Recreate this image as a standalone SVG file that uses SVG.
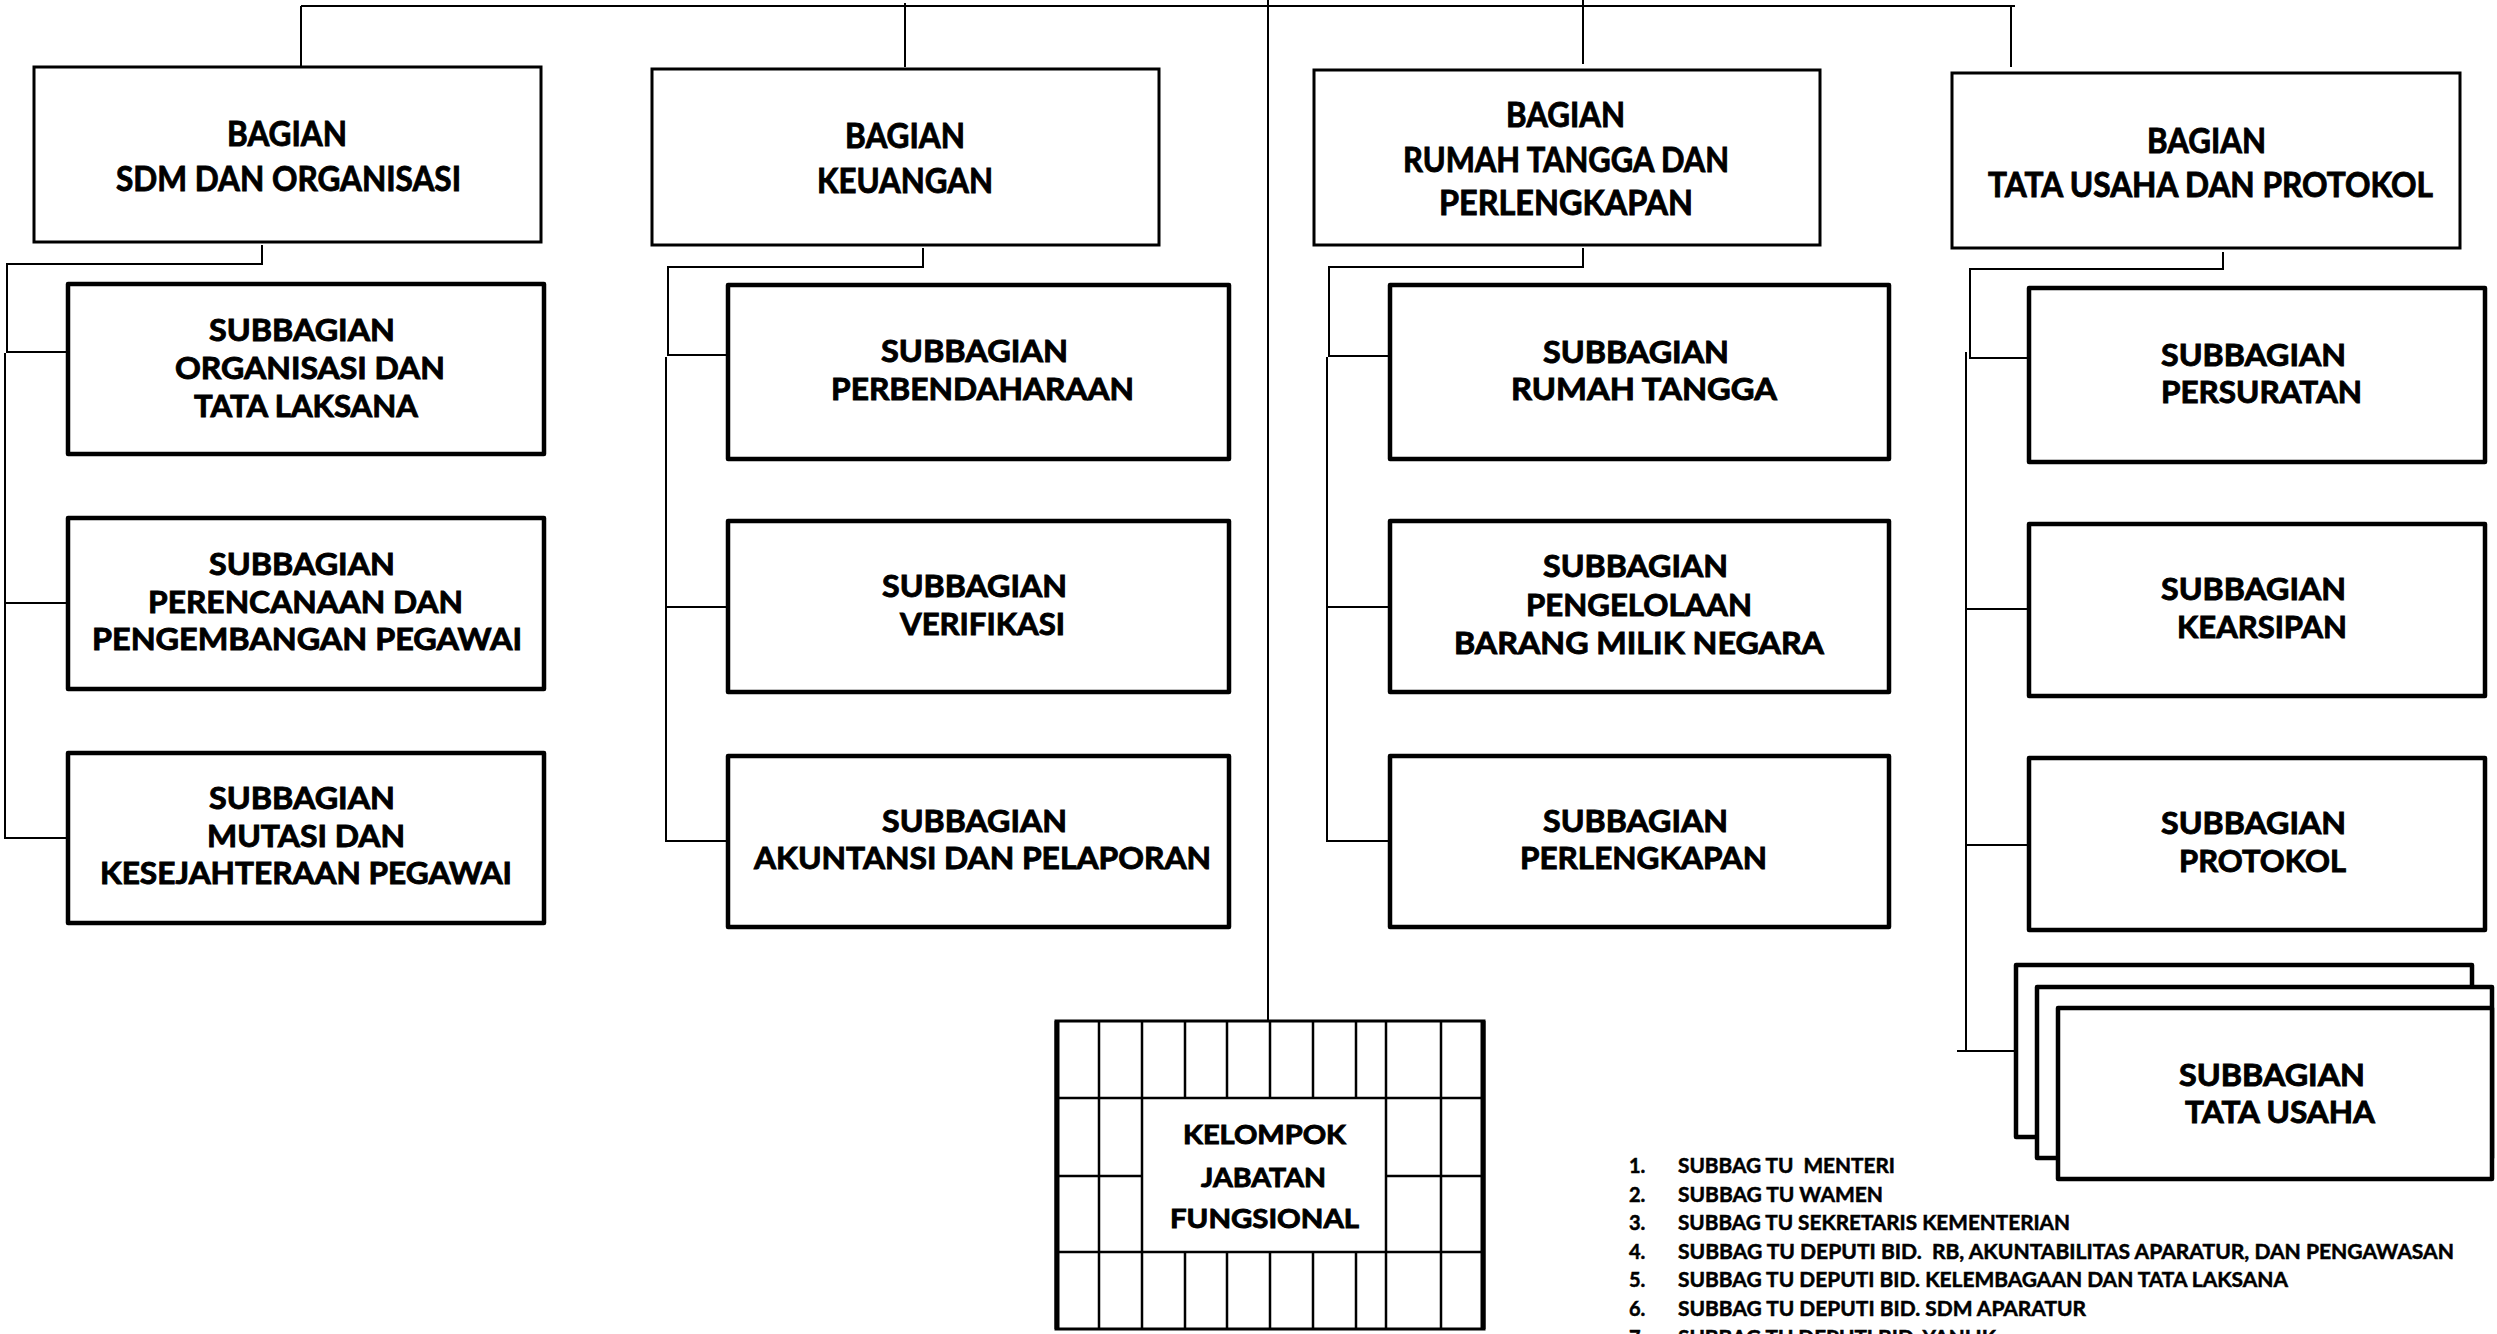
<svg xmlns="http://www.w3.org/2000/svg" width="2497" height="1334" viewBox="0 0 2497 1334">
<style>
.bg{fill:#ffffff}
.con{fill:none;stroke:#000;stroke-width:2}
.bag{fill:#fff;stroke:#000;stroke-width:3}
.sub{fill:#fff;stroke:#000;stroke-width:4.5;stroke-linejoin:round}
.grid{fill:none;stroke:#000;stroke-width:2.5}
.gridout{fill:#fff;stroke:#000;stroke-width:3}
.side{stroke:#000;stroke-width:5}
text{font-family:Lato,"Open Sans","Liberation Sans",sans-serif;font-weight:bold;fill:#000;stroke:#000;stroke-width:0.9;white-space:pre}
.tb{font-size:35px}
.ts{font-size:31px}
.tk{font-size:27px}
.tl{font-size:20px;stroke-width:0.5}
</style>
<rect class="bg" x="0" y="0" width="2497" height="1334"/>
<g id="connectors">
<path class="con" d="M301,6 H2015"/>
<path class="con" d="M301,6 V70 M905,3 V67 M1583,0 V64 M2011,6 V67"/>
<path class="con" d="M1268,0 V1021"/>
<path class="con" d="M262,245 V264 H7 V352 H68 M5,353 V838 H68 M5,603 H68"/>
<path class="con" d="M923,248 V267 H668 V355 H728 M666,357 V841 H728 M666,607 H728"/>
<path class="con" d="M1583,248 V267 H1329 V356 H1390 M1327,357 V841 H1390 M1327,607 H1390"/>
<path class="con" d="M2223,252 V269 H1970 V358 H2029 M1966,352 V1051 M1957,1051 H2021 M1966,609 H2029 M1966,845 H2029"/>
</g>
<g id="bagian-sdm">
<rect class="bag" x="34" y="67" width="507" height="175"/>
<text class="tb" x="227" y="146" textLength="120" lengthAdjust="spacingAndGlyphs">BAGIAN</text>
<text class="tb" x="116" y="191" textLength="345" lengthAdjust="spacingAndGlyphs">SDM DAN ORGANISASI</text>
</g>
<g id="bagian-keuangan">
<rect class="bag" x="652" y="69" width="507" height="176"/>
<text class="tb" x="845" y="148" textLength="120" lengthAdjust="spacingAndGlyphs">BAGIAN</text>
<text class="tb" x="817" y="193" textLength="176" lengthAdjust="spacingAndGlyphs">KEUANGAN</text>
</g>
<g id="bagian-rumah-tangga">
<rect class="bag" x="1314" y="70" width="506" height="175"/>
<text class="tb" x="1506" y="127" textLength="119" lengthAdjust="spacingAndGlyphs">BAGIAN</text>
<text class="tb" x="1403" y="172" textLength="326" lengthAdjust="spacingAndGlyphs">RUMAH TANGGA DAN</text>
<text class="tb" x="1439" y="215" textLength="254" lengthAdjust="spacingAndGlyphs">PERLENGKAPAN</text>
</g>
<g id="bagian-tata-usaha">
<rect class="bag" x="1952" y="73" width="508" height="175"/>
<text class="tb" x="2147" y="153" textLength="119" lengthAdjust="spacingAndGlyphs">BAGIAN</text>
<text class="tb" x="1988" y="197" textLength="445" lengthAdjust="spacingAndGlyphs">TATA USAHA DAN PROTOKOL</text>
</g>
<g id="sub-organisasi">
<rect class="sub" x="68" y="284" width="476" height="170"/>
<text class="ts" x="209" y="341" textLength="186" lengthAdjust="spacingAndGlyphs">SUBBAGIAN</text>
<text class="ts" x="175" y="379" textLength="270" lengthAdjust="spacingAndGlyphs">ORGANISASI DAN</text>
<text class="ts" x="194" y="417" textLength="224" lengthAdjust="spacingAndGlyphs">TATA LAKSANA</text>
</g>
<g id="sub-perencanaan">
<rect class="sub" x="68" y="518" width="476" height="171"/>
<text class="ts" x="209" y="575" textLength="186" lengthAdjust="spacingAndGlyphs">SUBBAGIAN</text>
<text class="ts" x="148" y="613" textLength="315" lengthAdjust="spacingAndGlyphs">PERENCANAAN DAN</text>
<text class="ts" x="92" y="650" textLength="430" lengthAdjust="spacingAndGlyphs">PENGEMBANGAN PEGAWAI</text>
</g>
<g id="sub-mutasi">
<rect class="sub" x="68" y="753" width="476" height="170"/>
<text class="ts" x="209" y="809" textLength="186" lengthAdjust="spacingAndGlyphs">SUBBAGIAN</text>
<text class="ts" x="207" y="847" textLength="198" lengthAdjust="spacingAndGlyphs">MUTASI DAN</text>
<text class="ts" x="100" y="884" textLength="412" lengthAdjust="spacingAndGlyphs">KESEJAHTERAAN PEGAWAI</text>
</g>
<g id="sub-perbendaharaan">
<rect class="sub" x="728" y="285" width="501" height="174"/>
<text class="ts" x="881" y="362" textLength="187" lengthAdjust="spacingAndGlyphs">SUBBAGIAN</text>
<text class="ts" x="831" y="400" textLength="303" lengthAdjust="spacingAndGlyphs">PERBENDAHARAAN</text>
</g>
<g id="sub-verifikasi">
<rect class="sub" x="728" y="521" width="501" height="171"/>
<text class="ts" x="882" y="597" textLength="185" lengthAdjust="spacingAndGlyphs">SUBBAGIAN</text>
<text class="ts" x="900" y="635" textLength="165" lengthAdjust="spacingAndGlyphs">VERIFIKASI</text>
</g>
<g id="sub-akuntansi">
<rect class="sub" x="728" y="756" width="501" height="171"/>
<text class="ts" x="882" y="832" textLength="185" lengthAdjust="spacingAndGlyphs">SUBBAGIAN</text>
<text class="ts" x="754" y="869" textLength="457" lengthAdjust="spacingAndGlyphs">AKUNTANSI DAN PELAPORAN</text>
</g>
<g id="sub-rumah-tangga">
<rect class="sub" x="1390" y="285" width="499" height="174"/>
<text class="ts" x="1543" y="363" textLength="186" lengthAdjust="spacingAndGlyphs">SUBBAGIAN</text>
<text class="ts" x="1511" y="400" textLength="266" lengthAdjust="spacingAndGlyphs">RUMAH TANGGA</text>
</g>
<g id="sub-pengelolaan-bmn">
<rect class="sub" x="1390" y="521" width="499" height="171"/>
<text class="ts" x="1543" y="577" textLength="185" lengthAdjust="spacingAndGlyphs">SUBBAGIAN</text>
<text class="ts" x="1526" y="616" textLength="226" lengthAdjust="spacingAndGlyphs">PENGELOLAAN</text>
<text class="ts" x="1454" y="654" textLength="370" lengthAdjust="spacingAndGlyphs">BARANG MILIK NEGARA</text>
</g>
<g id="sub-perlengkapan">
<rect class="sub" x="1390" y="756" width="499" height="171"/>
<text class="ts" x="1543" y="832" textLength="185" lengthAdjust="spacingAndGlyphs">SUBBAGIAN</text>
<text class="ts" x="1520" y="869" textLength="247" lengthAdjust="spacingAndGlyphs">PERLENGKAPAN</text>
</g>
<g id="sub-persuratan">
<rect class="sub" x="2029" y="288" width="456" height="174"/>
<text class="ts" x="2161" y="366" textLength="185" lengthAdjust="spacingAndGlyphs">SUBBAGIAN</text>
<text class="ts" x="2161" y="403" textLength="201" lengthAdjust="spacingAndGlyphs">PERSURATAN</text>
</g>
<g id="sub-kearsipan">
<rect class="sub" x="2029" y="524" width="456" height="172"/>
<text class="ts" x="2161" y="600" textLength="185" lengthAdjust="spacingAndGlyphs">SUBBAGIAN</text>
<text class="ts" x="2177" y="638" textLength="170" lengthAdjust="spacingAndGlyphs">KEARSIPAN</text>
</g>
<g id="sub-protokol">
<rect class="sub" x="2029" y="758" width="456" height="172"/>
<text class="ts" x="2161" y="834" textLength="185" lengthAdjust="spacingAndGlyphs">SUBBAGIAN</text>
<text class="ts" x="2179" y="872" textLength="167" lengthAdjust="spacingAndGlyphs">PROTOKOL</text>
</g>
<g id="sub-tata-usaha">
<rect class="sub" x="2016" y="965" width="456" height="172"/>
<rect class="sub" x="2037" y="987" width="455" height="171"/>
<rect class="sub" x="2058" y="1008" width="434" height="171"/>
<text class="ts" x="2179" y="1086" textLength="186" lengthAdjust="spacingAndGlyphs">SUBBAGIAN</text>
<text class="ts" x="2185" y="1123" textLength="190" lengthAdjust="spacingAndGlyphs">TATA USAHA</text>
</g>
<g id="kelompok-jabatan-fungsional">
<rect class="gridout" x="1056" y="1021" width="428" height="308"/>
<path class="grid" d="M1099,1021 V1329 M1142,1021 V1329 M1386,1021 V1329 M1441,1021 V1329
M1185,1021 V1098 M1227,1021 V1098 M1270,1021 V1098 M1313,1021 V1098 M1356,1021 V1098
M1185,1252 V1329 M1227,1252 V1329 M1270,1252 V1329 M1313,1252 V1329 M1356,1252 V1329
M1056,1098 H1484 M1056,1252 H1484 M1056,1176 H1142 M1386,1176 H1484"/>
<path class="side" d="M1057,1021 V1329 M1483,1021 V1329"/>
<text class="tk" x="1183" y="1144" textLength="163" lengthAdjust="spacingAndGlyphs">KELOMPOK</text>
<text class="tk" x="1201" y="1187" textLength="125" lengthAdjust="spacingAndGlyphs">JABATAN</text>
<text class="tk" x="1170" y="1228" textLength="189" lengthAdjust="spacingAndGlyphs">FUNGSIONAL</text>
</g>
<g id="daftar-subbag-tu">
<text class="tl" x="1629" y="1173">1.</text>
<text class="tl" x="1678" y="1173" textLength="217" lengthAdjust="spacingAndGlyphs">SUBBAG TU  MENTERI</text>
<text class="tl" x="1629" y="1202">2.</text>
<text class="tl" x="1678" y="1202" textLength="205" lengthAdjust="spacingAndGlyphs">SUBBAG TU WAMEN</text>
<text class="tl" x="1629" y="1230">3.</text>
<text class="tl" x="1678" y="1230" textLength="392" lengthAdjust="spacingAndGlyphs">SUBBAG TU SEKRETARIS KEMENTERIAN</text>
<text class="tl" x="1629" y="1259">4.</text>
<text class="tl" x="1678" y="1259" textLength="776" lengthAdjust="spacingAndGlyphs">SUBBAG TU DEPUTI BID.  RB, AKUNTABILITAS APARATUR, DAN PENGAWASAN</text>
<text class="tl" x="1629" y="1287">5.</text>
<text class="tl" x="1678" y="1287" textLength="610" lengthAdjust="spacingAndGlyphs">SUBBAG TU DEPUTI BID. KELEMBAGAAN DAN TATA LAKSANA</text>
<text class="tl" x="1629" y="1316">6.</text>
<text class="tl" x="1678" y="1316" textLength="408" lengthAdjust="spacingAndGlyphs">SUBBAG TU DEPUTI BID. SDM APARATUR</text>
<text class="tl" x="1629" y="1345">7.</text>
<text class="tl" x="1678" y="1345" textLength="318" lengthAdjust="spacingAndGlyphs">SUBBAG TU DEPUTI BID. YANLIK</text>
</g>
</svg>
